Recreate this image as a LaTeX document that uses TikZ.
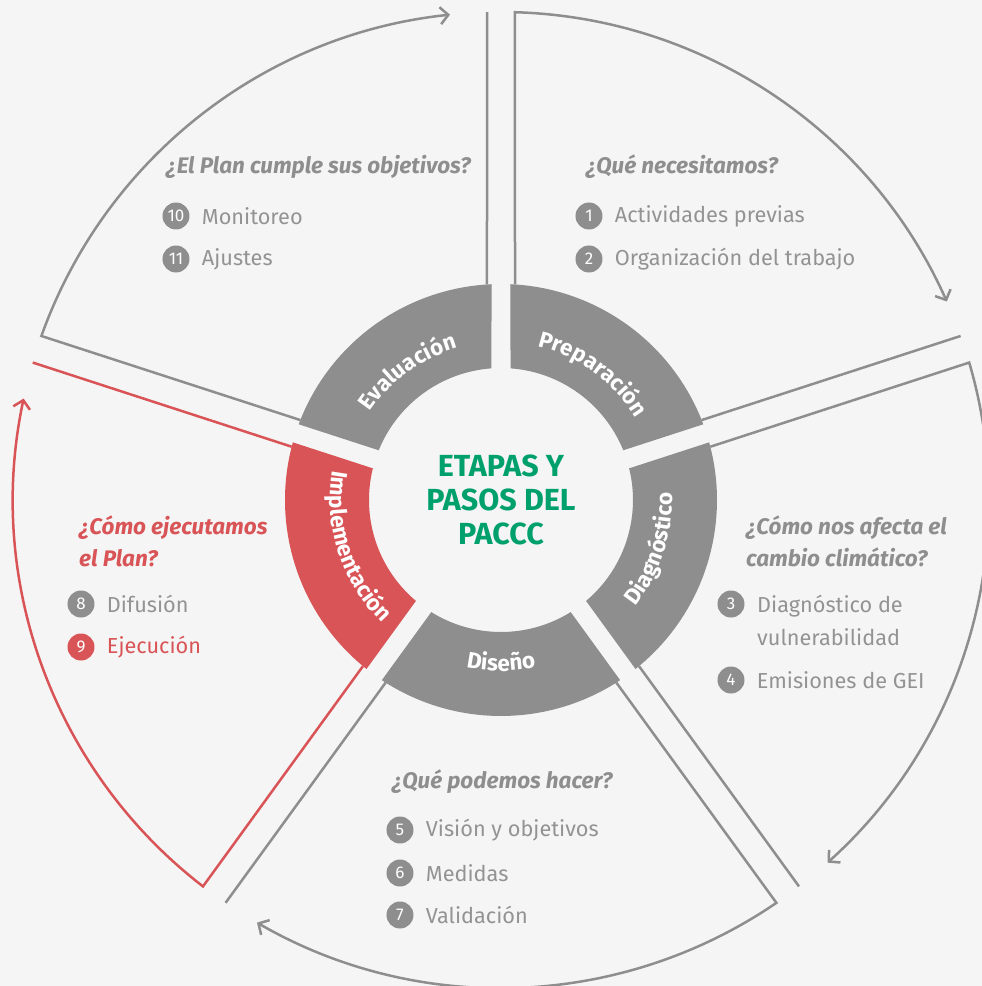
\documentclass[tikz,border=0pt]{standalone}
\usepackage{fontspec}
\setmainfont{Fira Sans}
\usetikzlibrary{arrows.meta,positioning,decorations.text}
\definecolor{bgcol}{HTML}{F5F5F5}
\definecolor{stagegray}{HTML}{8E8E8E}
\definecolor{itemgray}{HTML}{939393}
\definecolor{accent}{HTML}{D95457}
\definecolor{titlegreen}{HTML}{00A06C}
\newcommand{\labelfont}{\bfseries\fontsize{22.5}{26}\selectfont}

\begin{document}
\begin{tikzpicture}[x=1pt, y=1pt,
    ringtext/.style={decorate, decoration={text along path, text align=center,
        text color=white, text={|\labelfont|#1}}},
    title/.style={align=center, text=titlegreen, font=\bfseries\fontsize{30.5}{34}\selectfont},
    question/.style={anchor=west, align=left, inner sep=0pt, text=stagegray,
        font=\bfseries\itshape\fontsize{22.5}{32}\selectfont},
    item/.style={align=left, inner sep=0pt, text=itemgray, font=\fontsize{21.7}{33}\selectfont},
    num/.style={circle, fill=stagegray, text=white, minimum size=27pt, inner sep=0pt,
        font=\fontsize{17}{17}\selectfont}]
    \fill[bgcol] (-501,-486) rectangle (481,500);
    \useasboundingbox (-501,-486) rectangle (481,500);

    \foreach \a/\c in {90/stagegray, 18/stagegray, -54/stagegray, -126/accent, -198/stagegray} {
        \pgfmathsetmacro{\b}{\a-72}
        \pgfmathsetmacro{\sa}{\a-2.52}
        \pgfmathsetmacro{\sb}{\b+2.52}
        \pgfmathsetmacro{\ia}{\a-4.13}
        \pgfmathsetmacro{\ib}{\b+4.13}
        \pgfmathsetmacro{\la}{\a-1.64}
        \pgfmathsetmacro{\lb}{\b+1.64}
        \pgfmathsetmacro{\ea}{\b+6}
        \fill[\c] (\sa:216) arc[start angle=\sa, end angle=\sb, radius=216]
            -- (\ib:132) arc[start angle=\ib, end angle=\ia, radius=132] -- cycle;
        \draw[\c, line width=2.5pt, line join=miter, -{Straight Barb[length=8pt, width=17pt]}]
            ({\a-3.72}:216) -- (\la:488) arc[start angle=\la, end angle=\ea, radius=488];
        \draw[\c, line width=2.5pt] ({\b+3.72}:216) -- (\lb:488);
    }

    \path[ringtext=Evaluación] (166:158) arc[start angle=166, end angle=86, radius=158];
    \path[ringtext=Preparación] (94:158) arc[start angle=94, end angle=14, radius=158];
    \path[ringtext=Diagnóstico] (-58:171) arc[start angle=-58, end angle=22, radius=171];
    \path[ringtext=Diseño] (-130:171) arc[start angle=-130, end angle=-50, radius=171];
    \path[ringtext=Implementación] (158:171) arc[start angle=158, end angle=238, radius=171];

    \node[title] (title) at (0,0) {ETAPAS Y\\PASOS DEL\\PACCC};

    \node[question] (q1) at (85,333) {¿Qué necesitamos?};
    \node[num] (n1) at (88,284) {1};
    \node[item, right=12pt of n1] (t1) {Actividades previas};
    \node[num] (n2) at (88,241) {2};
    \node[item, right=12pt of n2] (t2) {Organización del trabajo};

    \node[question] (q2) at (245,-41) {¿Cómo nos afecta el\\cambio climático?};
    \node[num] (n3) at (230,-104) {3};
    \node[item, anchor=west] (t3) at (256,-120.5) {Diagnóstico de\\vulnerabilidad};
    \node[num] (n4) at (230,-180) {4};
    \node[item, right=12pt of n4] (t4) {Emisiones de GEI};

    \node[question] (q3) at (-109,-282) {¿Qué podemos hacer?};
    \node[num] (n5) at (-101,-330) {5};
    \node[item, right=12pt of n5] (t5) {Visión y objetivos};
    \node[num] (n6) at (-101,-373) {6};
    \node[item, right=12pt of n6] (t6) {Medidas};
    \node[num] (n7) at (-101,-415) {7};
    \node[item, right=12pt of n7] (t7) {Validación};

    \node[question, text=accent] (q4) at (-422,-41) {¿Cómo ejecutamos\\el Plan?};
    \node[num] (n8) at (-420,-104) {8};
    \node[item, right=12pt of n8] (t8) {Difusión};
    \node[num, fill=accent] (n9) at (-420,-147) {9};
    \node[item, text=accent, right=12pt of n9] (t9) {Ejecución};

    \node[question] (q5) at (-335,333) {¿El Plan cumple sus objetivos?};
    \node[num] (n10) at (-325,284) {10};
    \node[item, right=12pt of n10] (t10) {Monitoreo};
    \node[num] (n11) at (-325,241) {11};
    \node[item, right=12pt of n11] (t11) {Ajustes};
\end{tikzpicture}
\end{document}
